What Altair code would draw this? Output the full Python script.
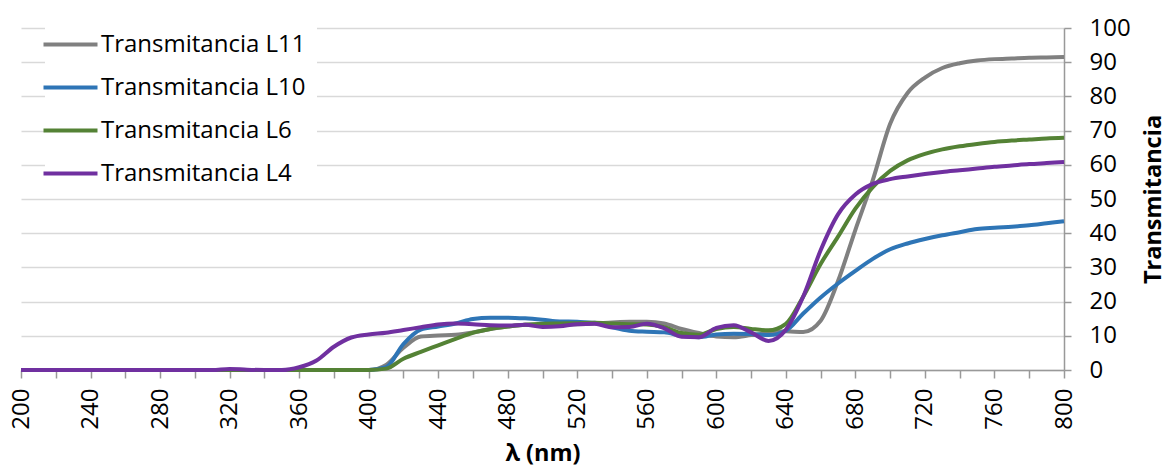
import altair as alt
import pandas as pd

wavelength = list(range(200, 810, 10))

zeros_200_400 = [0.0] * 21  # 200..400

l11 = zeros_200_400 + [1.5, 6.5, 9.8, 10.1, 10.3, 11.0, 12.0, 12.7, 13.2, 13.3,
                       13.3, 13.4, 13.6, 13.9, 14.1, 14.1, 13.6, 12.0, 10.8, 9.8,
                       9.6, 10.2, 10.8, 11.3, 11.1, 14.4, 26.0, 41.0, 55.5, 72.0,
                       81.0, 85.5, 88.3, 89.7, 90.5, 90.9, 91.1, 91.3, 91.4, 91.5]
l10 = zeros_200_400 + [0.8, 7.6, 11.8, 12.7, 13.6, 14.9, 15.3, 15.3, 15.1, 14.7,
                       14.2, 14.1, 13.8, 12.5, 11.5, 11.2, 11.0, 10.0, 9.6, 10.4,
                       10.6, 10.5, 10.2, 11.5, 16.5, 21.2, 25.3, 29.0, 32.5, 35.3,
                       37.0, 38.3, 39.4, 40.3, 41.2, 41.6, 41.9, 42.3, 42.9, 43.5]
l6 = zeros_200_400 + [0.4, 3.3, 5.3, 7.2, 9.1, 10.9, 12.0, 12.7, 13.2, 13.5,
                      13.6, 13.7, 13.8, 13.6, 13.4, 13.3, 12.5, 10.8, 10.3, 12.0,
                      12.6, 12.0, 11.6, 13.5, 21.5, 31.0, 39.0, 47.2, 53.5, 58.2,
                      61.3, 63.2, 64.5, 65.4, 66.1, 66.7, 67.1, 67.4, 67.7, 67.9]
l4 = ([0.0] * 12 + [0.3, 0.1, 0.0, 0.0] +
      [0.8, 2.8, 6.8, 9.5, 10.4, 10.9, 11.7, 12.5, 13.3, 13.6,
       13.4, 13.1, 13.0, 13.2, 12.6, 12.8, 13.4, 13.5, 12.5, 12.6,
       13.5, 12.2, 9.7, 9.6, 12.3, 13.1, 11.0, 8.5, 11.8, 21.5,
       35.0, 45.5, 51.3, 54.4, 55.8, 56.6, 57.3, 57.9, 58.4, 58.9,
       59.4, 59.8, 60.2, 60.5, 60.8])

series_names = ["Transmitancia L11", "Transmitancia L10", "Transmitancia L6", "Transmitancia L4"]
series_colors = ["#808080", "#2E75B6", "#548235", "#7030A0"]
series_values = [l11, l10, l6, l4]

x_ticks = list(range(200, 820, 20))
y_ticks = list(range(0, 110, 10))

rows = []
for name, vals in zip(series_names, series_values):
    for w, v in zip(wavelength, vals):
        rows.append({"lambda": w, "value": v, "serie": name})
df = pd.DataFrame(rows)

FONT = "Open Sans"

chart = alt.Chart(df).mark_line(strokeWidth=4, interpolate="monotone").encode(
    x=alt.X("lambda:Q", scale=alt.Scale(domain=[200, 800], nice=False, zero=False),
            axis=alt.Axis(values=x_ticks, labelExpr="datum.value % 40 == 0 ? datum.label : ''",
                          labelAngle=270, labelAlign="right", labelBaseline="middle",
                          labelFontSize=24, labelFont=FONT, labelColor="#000000",
                          labelPadding=10, tickSize=8, tickColor="#999999", domainColor="#999999",
                          domainWidth=1.5, tickWidth=1.5, grid=False,
                          title="λ (nm)", titleFont=FONT, titleFontSize=23.5, titleFontWeight="bold",
                          titleColor="#000000", titlePadding=12)),
    y=alt.Y("value:Q", scale=alt.Scale(domain=[0, 100], nice=False),
            axis=alt.Axis(orient="right", values=y_ticks, labelFontSize=24, labelFont=FONT,
                          labelColor="#000000", labelPadding=18, tickSize=7, tickColor="#999999",
                          tickWidth=1.5, domainColor="#999999", domainWidth=1.5,
                          grid=True, gridColor="#d9d9d9", gridWidth=1.5,
                          title="Transmitancia", titleFont=FONT, titleFontSize=23.5,
                          titleFontWeight="bold", titleColor="#000000", titleAngle=270,
                          titlePadding=35)),
    color=alt.Color("serie:N", scale=alt.Scale(domain=series_names, range=series_colors),
                    sort=series_names,
                    legend=alt.Legend(title=None, orient="none", legendX=24, legendY=-9,
                                      symbolType="M-2,0H2", symbolSize=729, symbolStrokeWidth=4,
                                      labelFontSize=24, labelFont=FONT, labelColor="#000000",
                                      labelOffset=15, labelLimit=400, rowPadding=15, padding=10,
                                      fillColor="white", strokeColor="white")),
).properties(
    width=1043, height=342,
    autosize=alt.AutoSizeParams(type="none"),
    padding={"left": 21, "top": 28, "right": 108, "bottom": 98},
).configure_view(stroke=None)

chart.save("out.html", embed_options={"renderer": "svg", "actions": False})
